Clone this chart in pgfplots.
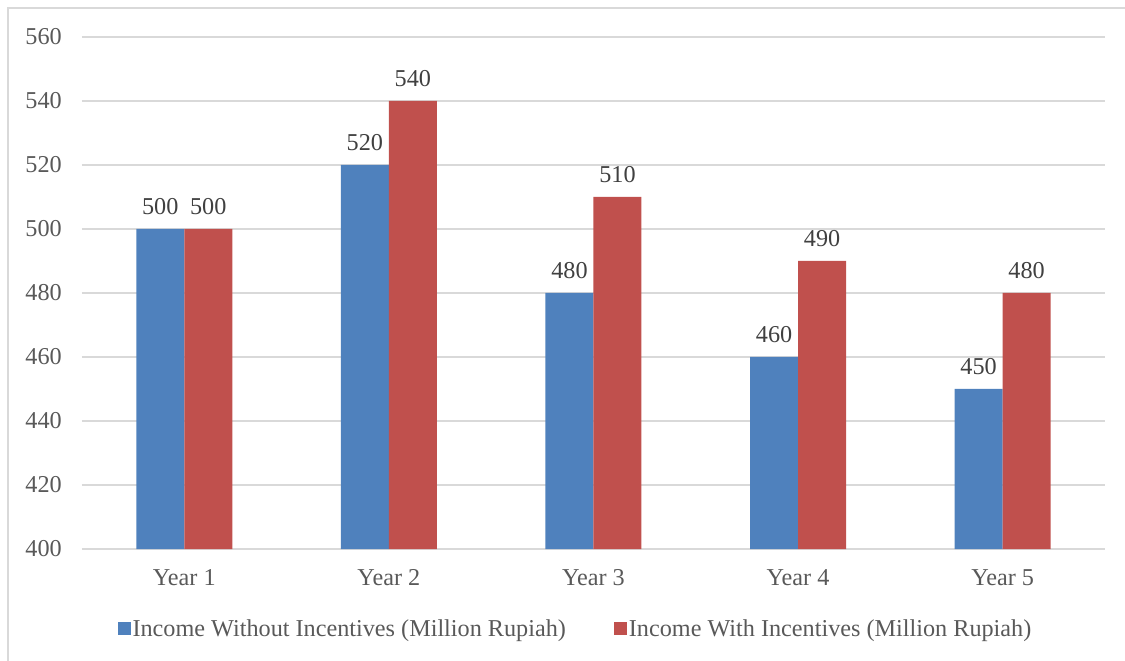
\documentclass[border=0pt]{standalone}
\usepackage{pgfplots}
\pgfplotsset{compat=1.18}
\usepackage{fontspec}
\setmainfont{Liberation Serif}
\definecolor{cblue}{HTML}{4F81BD}
\definecolor{cred}{HTML}{C0504D}
\definecolor{gridc}{HTML}{D9D9D9}
\definecolor{txt}{HTML}{595959}
\definecolor{lbl}{HTML}{404040}
\newcommand{\cf}{\fontsize{24.3}{29}\selectfont}
\begin{document}
\begin{tikzpicture}
\useasboundingbox (-82bp,-112bp) rectangle (1043bp,549bp);
\draw[gridc, line width=1.5bp] (-74bp,-112bp) -- (-74bp,541bp) -- (1043bp,541bp);
\begin{axis}[at={(0,0)}, anchor=south west,
 scale only axis, width=1023bp, height=512bp,
 ybar=0pt, bar width=48bp,
 xmin=-0.5, xmax=4.5, ymin=400, ymax=560, ytick={400,420,...,560},
 xtick={0,1,2,3,4}, xticklabels={Year 1,Year 2,Year 3,Year 4,Year 5},
 axis line style={draw=none}, major tick length=0pt,
 ymajorgrids, grid style={gridc, line width=1.5bp},
 tick label style={font=\cf, text=txt},
 /pgf/number format/assume math mode=true,
 yticklabel style={anchor=east, inner sep=0pt, xshift=-20bp},
 xticklabel style={anchor=north, inner sep=0pt, yshift=-20bp},
 nodes near coords,
 nodes near coords style={font=\cf, text=lbl, inner sep=0pt, anchor=south, yshift=14.5bp},
 legend columns=2,
 legend style={at={(0.5,-0.156)}, anchor=center, xshift=-18bp, draw=none, font=\cf, text=txt,
   nodes={inner sep=2bp},
   /tikz/every even column/.append style={column sep=46bp}},
 legend image code/.code={\fill[#1] (0bp,-6.5bp) rectangle (13bp,6.5bp);},
 clip=false]
\addplot[fill=cblue, draw=none] coordinates {(0,500) (1,520) (2,480) (3,460) (4,450)};
\addplot[fill=cred, draw=none] coordinates {(0,500) (1,540) (2,510) (3,490) (4,480)};
\legend{Income Without Incentives (Million Rupiah), Income With Incentives (Million Rupiah)}
\end{axis}
\end{tikzpicture}
\end{document}
